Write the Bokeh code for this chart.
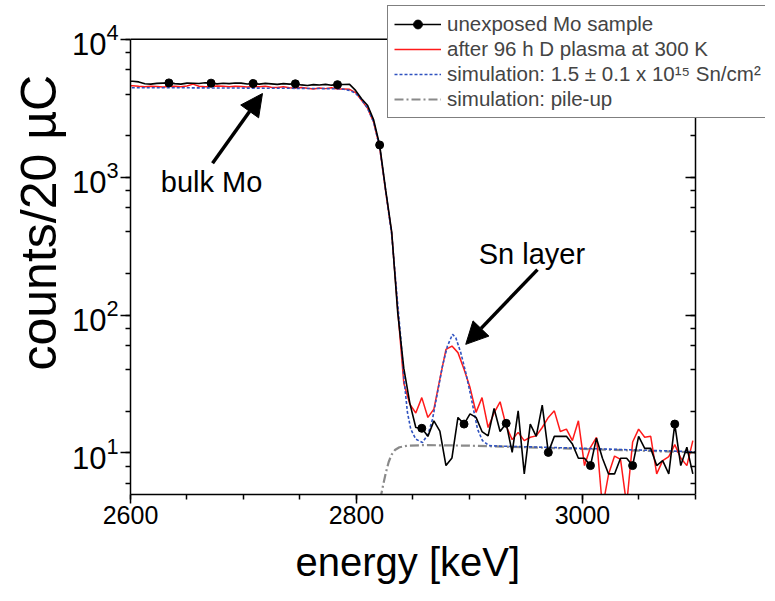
from bokeh.plotting import figure
from bokeh.models import (Range1d, LogAxis, Legend, LegendItem, Label, Title, Span,
                          Arrow, NormalHead, SingleIntervalTicker, LogTicker,
                          CustomJSTickFormatter)
from bokeh.embed import file_html
from bokeh.resources import INLINE

# ---------------- data ----------------
energy = [2596.7, 2602.0, 2607.3, 2612.7, 2618.0, 2623.3, 2628.7, 2634.0, 2639.3, 2644.6,
          2650.0, 2655.3, 2660.6, 2666.0, 2671.3, 2676.6, 2682.0, 2687.3, 2692.6, 2697.9,
          2703.3, 2708.6, 2713.9, 2719.3, 2724.6, 2729.9, 2735.3, 2740.6, 2745.9, 2751.2,
          2756.6, 2761.9, 2767.2, 2772.6, 2777.9, 2783.2, 2788.6, 2793.9, 2799.2, 2804.5,
          2809.9, 2815.2, 2820.5, 2825.9, 2831.2, 2836.5, 2841.9, 2847.2, 2852.5, 2857.8,
          2863.2, 2868.5, 2873.8, 2879.2, 2884.5, 2889.8, 2895.2, 2900.5, 2905.8, 2911.1,
          2916.5, 2921.8, 2927.1, 2932.5, 2937.8, 2943.1, 2948.5, 2953.8, 2959.1, 2964.4,
          2969.8, 2975.1, 2980.4, 2985.8, 2991.1, 2996.4, 3001.8, 3007.1, 3012.4, 3017.7,
          3023.1, 3028.4, 3033.7, 3039.1, 3044.4, 3049.7, 3055.1, 3060.4, 3065.7, 3071.0,
          3076.4, 3081.7, 3087.0, 3092.4, 3097.7]

unexposed = [4950, 4950, 4900, 4750, 4720, 4780, 4800, 4820, 4760, 4720,
             4800, 4790, 4770, 4830, 4800, 4740, 4790, 4760, 4810, 4800,
             4730, 4770, 4720, 4780, 4740, 4700, 4760, 4720, 4750, 4660,
             4610, 4680, 4650, 4700, 4640, 4680, 4690, 4700, 4250, 3700,
             3300, 2600, 1710, 800, 400, 104, 41, 23, 15.3, 15.1,
             13.2, 17.1, 14.4, 8.1, 9.2, 18.1, 16.2, 19.2, 18.1, 14.3,
             13.3, 21.0, 14.3, 16.4, 10.1, 20.2, 7.05, 16.2, 13.2, 22.2,
             10.1, 13.2, 13.2, 13.2, 11.6, 9.15, 9.15, 8.1, 12.8, 9.15,
             7.05, 7.05, 9.15, 9.15, 8.1, 13.2, 10.8, 10.8, 8.1, 8.8,
             7.05, 16.2, 8.1, 11.0, 7.05]

plasma = [4600, 4600, 4550, 4520, 4560, 4540, 4500, 4530, 4560, 4520,
          4580, 4720, 4560, 4520, 4540, 4580, 4550, 4520, 4560, 4530,
          4500, 4540, 4510, 4550, 4480, 4470, 4520, 4440, 4420, 4470,
          4400, 4360, 4420, 4380, 4440, 4350, 4360, 4330, 4100, 3600,
          3150, 2500, 1650, 780, 390, 110, 32, 22.6, 19.5, 25.2,
          18.1, 20.8, 34.3, 56.4, 59.6, 53.4, 40.4, 29.8, 19.7, 25.2,
          15.3, 19.5, 23.5, 15.7, 12.5, 14.1, 12.3, 13.0, 13.3, 15.3,
          18.1, 20.2, 14.3, 14.9, 12.3, 17.1, 8.1, 11.0, 13.0, 4.0,
          7.0, 9.5, 9.0, 4.2, 12.0, 14.9, 13.0, 13.2, 7.05, 8.8,
          9.4, 11.5, 9.2, 8.1, 12.3]

sim_energy = [2596.7, 2650.0, 2700.0, 2750.0, 2783.2, 2788.6, 2793.9, 2799.2, 2804.5, 2809.9,
              2815.2, 2820.5, 2825.9, 2831.2, 2836.5, 2839.2, 2842.1, 2845.1, 2848.0, 2852.5,
              2858.4, 2863.4, 2867.3, 2871.7, 2876.1, 2880.5, 2885.0, 2887.9, 2892.3, 2896.7,
              2901.2, 2904.1, 2907.1, 2911.5, 2917.3, 2927.7, 2950.0, 3000.0, 3050.0, 3100.0]
sim_counts = [4450, 4440, 4420, 4400, 4370, 4330, 4250, 4050, 3650, 3150,
              2500, 1650, 790, 380, 120, 68, 34, 19.7, 14.9, 12.6,
              11.9, 13.7, 17.6, 27.4, 42.6, 59.6, 72.5, 68.5, 53.4, 38.3,
              25.9, 19.7, 14.9, 12.3, 11.3, 11.2, 11.1, 10.8, 10.5, 10.2]

pileup_energy = [2821.0, 2823.5, 2826.0, 2828.5, 2831.0, 2834.0, 2838.0, 2845.0, 2860.0,
                 2900.0, 2950.0, 3000.0, 3050.0, 3100.0]
pileup_counts = [4.6, 5.8, 7.2, 8.6, 9.7, 10.5, 11.0, 11.3, 11.4,
                 11.3, 11.0, 10.7, 10.4, 10.1]

legend_labels = ["unexposed Mo sample",
                 "after 96 h D plasma at 300 K",
                 "simulation: 1.5 \u00b1 0.1 x 10\u00b9\u2075 Sn/cm\u00b2",
                 "simulation: pile-up"]

X_MIN, X_MAX = 2600, 3100
Y_MIN, Y_MAX = 5, 10000

FONT = "Liberation Sans"
blank = CustomJSTickFormatter(code="return ''")

# ---------------- figure ----------------
p = figure(frame_width=635, frame_height=494, output_backend="svg", toolbar_location=None,
           x_range=Range1d(2600, 3162), y_range=Range1d(5, 19070), y_axis_type="log",
           min_border_left=130, min_border_right=0, min_border_top=0, min_border_bottom=99)
p.xgrid.visible = False
p.ygrid.visible = False
p.outline_line_color = None
p.background_fill_color = "white"
p.border_fill_color = "white"

# bottom axis
xa = p.xaxis[0]
xa.bounds = (X_MIN, X_MAX)
xa.ticker = SingleIntervalTicker(interval=200, num_minor_ticks=4)
xa.axis_line_width = 1.5
xa.major_tick_line_width = 1.5
xa.minor_tick_line_width = 1.5
xa.major_tick_out = 9
xa.major_tick_in = 0
xa.minor_tick_out = 5
xa.minor_tick_in = 0
xa.major_label_text_font = FONT
xa.major_label_text_font_size = "25px"
xa.major_label_text_color = "black"
xa.major_label_standoff = 2

# x axis title, placed under the axis and centred on the drawn axis span
p.add_layout(Title(text="energy [keV]", align="left", offset=165,
                   text_font=FONT, text_font_size="40px", text_font_style="normal",
                   text_color="black", standoff=22), "below")

# left axis
ya = p.yaxis[0]
ya.bounds = (Y_MIN, Y_MAX)
ya.ticker = LogTicker()
ya.axis_line_width = 1.5
ya.major_tick_line_width = 1.5
ya.minor_tick_line_width = 1.5
ya.major_tick_out = 10
ya.major_tick_in = 0
ya.minor_tick_out = 5
ya.minor_tick_in = 0
ya.major_label_text_font = FONT
ya.major_label_text_font_size = "31px"
ya.major_label_text_color = "black"
ya.major_label_standoff = 2

# y axis title
p.add_layout(Title(text="counts/20 \u00b5C", align="left", offset=124,
                   text_font=FONT, text_font_size="50px", text_font_style="normal",
                   text_color="black", standoff=4), "left")

# top frame line and right mirrored axis (inward ticks)
p.add_layout(Span(location=Y_MAX, dimension="width", line_color="black", line_width=1.5))
right = LogAxis(ticker=LogTicker(), formatter=blank, fixed_location=X_MAX, bounds=(Y_MIN, Y_MAX),
                major_tick_in=10, major_tick_out=0, minor_tick_in=5, minor_tick_out=0,
                major_label_standoff=0,
                axis_line_width=1.5, major_tick_line_width=1.5, minor_tick_line_width=1.5)
p.add_layout(right, "right")

# ---------------- series ----------------
r_pile = p.line(pileup_energy, pileup_counts, line_color="#8a8a8a", line_width=2.2,
                line_dash="9 3 2 3")
r_red = p.line(energy, plasma, line_color="#ff1a1a", line_width=1.5)
r_blue = p.line(sim_energy, sim_counts, line_color="#2f52c0", line_width=1.6, line_dash="3 2")
r_black = p.line(energy, unexposed, line_color="black", line_width=1.6)
r_dots = p.scatter(energy[7::7], unexposed[7::7], marker="circle", size=8,
                   fill_color="black", line_color="black")

# annotations
p.add_layout(Label(x=2626.8, y=808, y_offset=8, text="bulk Mo", text_font=FONT,
                   text_font_size="29px", text_baseline="alphabetic", text_align="left",
                   text_color="black"))
p.add_layout(Label(x=2908.2, y=244, y_offset=8, text="Sn layer", text_font=FONT,
                   text_font_size="29px", text_baseline="alphabetic", text_align="left",
                   text_color="black"))
p.add_layout(Arrow(end=NormalHead(size=22, fill_color="black", line_color="black"),
                   x_start=2672.6, y_start=1259, x_end=2716.8, y_end=4036,
                   line_width=3.5, line_color="black"))
p.add_layout(Arrow(end=NormalHead(size=22, fill_color="black", line_color="black"),
                   x_start=2960.2, y_start=213.5, x_end=2896.7, y_end=61.3,
                   line_width=3.5, line_color="black"))

legend = Legend(items=[LegendItem(label=legend_labels[0], renderers=[r_black, r_dots]),
                       LegendItem(label=legend_labels[1], renderers=[r_red]),
                       LegendItem(label=legend_labels[2], renderers=[r_blue]),
                       LegendItem(label=legend_labels[3], renderers=[r_pile])],
                location=(257, 376), orientation="vertical",
                border_line_color="black", border_line_width=1.5,
                background_fill_color="white", background_fill_alpha=1.0,
                padding=6, spacing=1, margin=0, glyph_width=47, glyph_height=22,
                label_standoff=6, label_height=22,
                label_text_font=FONT, label_text_font_size="20.5px")
p.add_layout(legend, "center")

open("out.html", "w").write(file_html(p, INLINE))
